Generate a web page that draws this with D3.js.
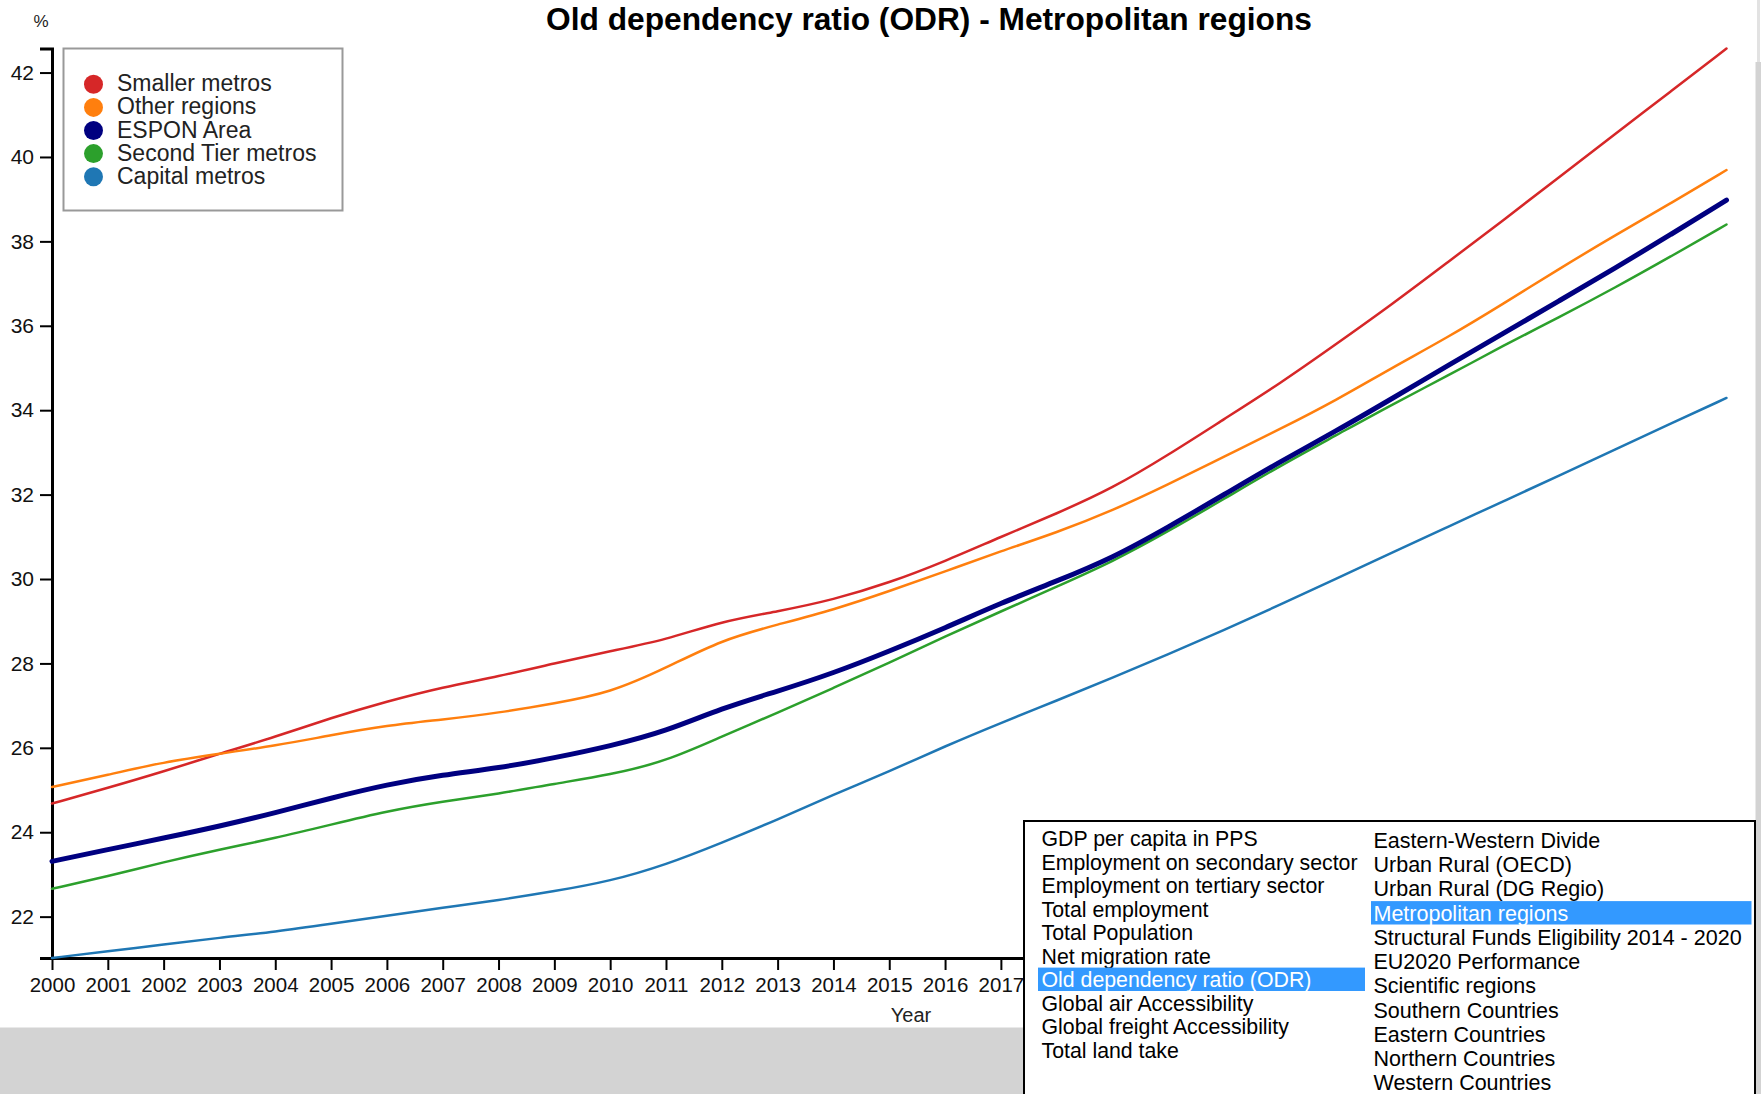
<!DOCTYPE html>
<html><head><meta charset="utf-8">
<script src="https://cdn.jsdelivr.net/npm/d3@7"></script>
<style>
html,body{margin:0;padding:0;background:#fff;overflow:hidden}
svg{display:block;font-family:"Liberation Sans",Arial,Helvetica,sans-serif}
</style></head><body>
<svg id="chart" width="1761" height="1094"></svg>
<script>
// ---- DATA ----
const years = [2000,2001,2002,2003,2004,2005,2006,2007,2008,2009,2010,2011,2012,2013,2014,2015,
               2016,2017,2018,2019,2020,2021,2022,2023,2024,2025,2026,2027,2028,2029,2030];
const smallerMetros = [24.68,25.05,25.44,25.86,26.26,26.71,27.10,27.44,27.69,28.00,28.29,28.56,29.00,29.23,29.51,29.91,
                       30.42,31.00,31.55,32.15,32.94,33.79,34.63,35.56,36.50,37.50,38.50,39.52,40.54,41.55,42.57];
const otherRegions  = [25.07,25.36,25.66,25.86,26.05,26.30,26.53,26.67,26.83,27.05,27.30,27.89,28.56,28.92,29.27,29.71,
                       30.18,30.66,31.10,31.62,32.24,32.90,33.55,34.23,35.00,35.72,36.52,37.35,38.14,38.90,39.69];
const esponArea     = [23.31,23.59,23.86,24.14,24.46,24.81,25.13,25.36,25.52,25.76,26.04,26.39,26.94,27.34,27.77,28.29,
                       28.84,29.43,29.95,30.50,31.23,32.00,32.78,33.50,34.27,35.05,35.82,36.59,37.36,38.16,38.98];
const secondTier    = [22.66,22.96,23.29,23.59,23.86,24.18,24.50,24.73,24.91,25.15,25.36,25.68,26.27,26.83,27.42,28.01,
                       28.64,29.23,29.82,30.41,31.13,31.90,32.68,33.40,34.13,34.81,35.53,36.20,36.90,37.64,38.40];
const capitalMetros = [21.02,21.18,21.34,21.50,21.64,21.83,22.02,22.21,22.39,22.60,22.84,23.23,23.75,24.30,24.89,25.44,
                       26.04,26.59,27.12,27.66,28.22,28.79,29.39,30.00,30.62,31.23,31.84,32.45,33.07,33.68,34.29];
const seriesNames  = ["Smaller metros","Other regions","ESPON Area","Second Tier metros","Capital metros"];
const seriesValues = [smallerMetros, otherRegions, esponArea, secondTier, capitalMetros];
const seriesColors = ["#d62728","#ff7f0e","#000080","#2ca02c","#1f77b4"];
const yTicks = [22,24,26,28,30,32,34,36,38,40,42];
const titleText = "Old dependency ratio (ODR) - Metropolitan regions";
const yUnit = "%";
const xLabel = "Year";
const menuLeft = ["GDP per capita in PPS","Employment on secondary sector","Employment on tertiary sector",
  "Total employment","Total Population","Net migration rate","Old dependency ratio (ODR)",
  "Global air Accessibility","Global freight Accessibility","Total land take"];
const menuRight = ["Eastern-Western Divide","Urban Rural (OECD)","Urban Rural (DG Regio)","Metropolitan regions",
  "Structural Funds Eligibility 2014 - 2020","EU2020 Performance","Scientific regions","Southern Countries",
  "Eastern Countries","Northern Countries","Western Countries"];
const selectedLeft = "Old dependency ratio (ODR)";
const selectedRight = "Metropolitan regions";

// ---- CHART ----
const svg = d3.select("#chart");
const boxX = 1024, boxY = 821;

// page background pieces
svg.append("rect").attr("x",0).attr("y",1027.5).attr("width",1761).attr("height",70).attr("fill","#d3d3d3");
svg.append("rect").attr("x",1755.5).attr("y",62).attr("width",6).attr("height",1040).attr("fill","#d3d3d3");
svg.append("rect").attr("x",1757).attr("y",0).attr("width",3).attr("height",62).attr("fill","#e2e2e2");

const allVals = seriesValues.flat();
const x = d3.scaleLinear().domain([years[0], years[years.length-1]]).range([52, 1726.5]);
const y = d3.scaleLinear().domain(d3.extent(allVals)).range([958, 48.5]);

// axes (labels that sit under the selection box are hidden by it, so left blank)
const yAxis = d3.axisLeft(y).tickValues(yTicks).tickSize(12).tickSizeOuter(12).tickPadding(6).tickFormat(d3.format("d"));
const xAxis = d3.axisBottom(x).tickValues(years).tickSize(12).tickSizeOuter(0).tickPadding(7)
  .tickFormat(d => x(d) + 20 < boxX ? d3.format("d")(d) : "");

const gx = svg.append("g").attr("transform","translate(0,958)").call(xAxis);
const gy = svg.append("g").attr("transform","translate(52,0)").call(yAxis);
[gx, gy].forEach(g => {
  g.select(".domain").attr("stroke","#000").attr("stroke-width",3);
  g.selectAll(".tick line").attr("stroke","#000").attr("stroke-width",2);
  g.selectAll(".tick text").attr("fill","#111").style("font-size","20.5px")
    .style("font-family",'"Liberation Sans",Arial,sans-serif');
});
gy.selectAll(".tick text").style("font-size","21px");

// lines
const line = d3.line().x((d,i)=>x(years[i])).y(d=>y(d)).curve(d3.curveBasis);
const order = [0,1,3,4,2];
order.forEach(i => {
  svg.append("path").datum(seriesValues[i])
    .attr("fill","none").attr("stroke",seriesColors[i])
    .attr("stroke-width", i===2 ? 5 : 2.5)
    .attr("stroke-linejoin","round").attr("stroke-linecap","round")
    .attr("d", line);
});

// title and axis labels
svg.append("text").attr("x",929).attr("y",30).attr("text-anchor","middle")
  .style("font-size","31.7px").style("font-weight","bold").attr("fill","#000").text(titleText);
svg.append("text").attr("x",41).attr("y",27).attr("text-anchor","middle")
  .style("font-size","17px").attr("fill","#222").text(yUnit);
svg.append("text").attr("x",911).attr("y",1022).attr("text-anchor","middle")
  .style("font-size","20px").attr("fill","#222").text(xLabel);

// legend
const lg = svg.append("g");
lg.append("rect").attr("x",63.5).attr("y",48.5).attr("width",279).attr("height",162)
  .attr("fill","#fff").attr("stroke","#999").attr("stroke-width",2);
seriesNames.forEach((n,i) => {
  const cy = 84.3 + i*23.1;
  lg.append("circle").attr("cx",93.5).attr("cy",cy).attr("r",9.5).attr("fill",seriesColors[i]);
  lg.append("text").attr("x",117).attr("y",cy+7).style("font-size","23px").attr("fill","#222").text(n);
});

// selection list box
const mb = svg.append("g");
mb.append("rect").attr("x",boxX).attr("y",boxY).attr("width",731).attr("height",300)
  .attr("fill","#fff").attr("stroke","#000").attr("stroke-width",2);
menuLeft.forEach((t,i) => {
  const cy = 838.3 + i*23.5;
  const sel = t === selectedLeft;
  if (sel) mb.append("rect").attr("x",1038).attr("y",cy-11.7).attr("width",327).attr("height",23.4).attr("fill","#3399ff");
  mb.append("text").attr("x",1041.5).attr("y",cy+7.7).style("font-size","21.3px")
    .attr("fill", sel ? "#fff" : "#000").text(t);
});
menuRight.forEach((t,i) => {
  const cy = 840 + i*24.27;
  const sel = t === selectedRight;
  if (sel) mb.append("rect").attr("x",1371).attr("y",cy-11.7).attr("width",380.5).attr("height",23.4).attr("fill","#3399ff");
  mb.append("text").attr("x",1373.5).attr("y",cy+7.7).style("font-size","21.5px")
    .attr("fill", sel ? "#fff" : "#000").text(t);
});
</script>
</body></html>
